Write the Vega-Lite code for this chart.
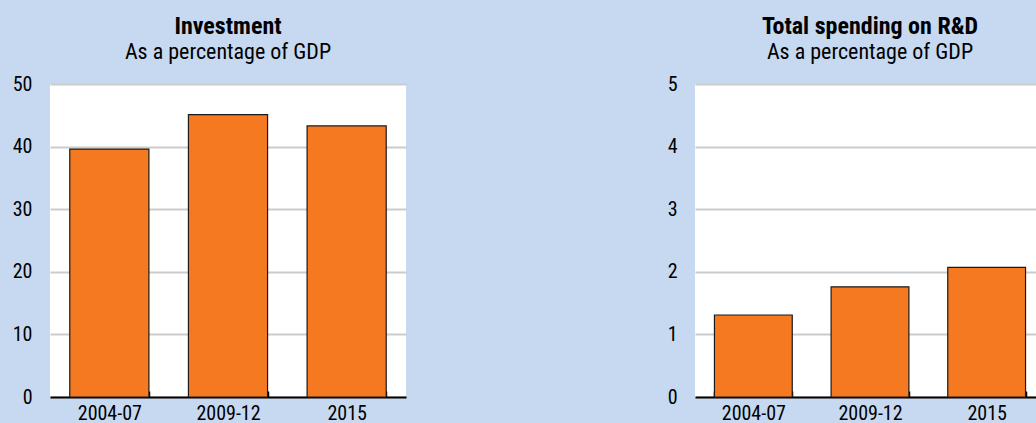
{
  "$schema": "https://vega.github.io/schema/vega-lite/v6.json",
  "background": "#C6D9F0",
  "padding": {"left": 12, "top": 15, "right": 0, "bottom": 0},
  "spacing": 261,
  "config": {
    "view": {"fill": "white", "stroke": null},
    "font": "Roboto Condensed",
    "axis": {"labelFont": "Roboto Condensed"},
    "title": {"font": "Roboto Condensed", "subtitleFont": "Roboto Condensed"}
  },
  "data": {
    "values": [
      {"panel": "Investment", "period": "2004-07", "value": 39.6},
      {"panel": "Investment", "period": "2009-12", "value": 45.1},
      {"panel": "Investment", "period": "2015", "value": 43.3},
      {"panel": "RD", "period": "2004-07", "value": 1.31},
      {"panel": "RD", "period": "2009-12", "value": 1.76},
      {"panel": "RD", "period": "2015", "value": 2.07}
    ]
  },
  "hconcat": [
    {
      "width": 356,
      "height": 313,
      "title": {"text": "Investment", "subtitle": "As a percentage of GDP", "fontSize": 24, "fontWeight": "bold", "subtitleFontSize": 22, "color": "black", "subtitleColor": "black", "anchor": "middle", "offset": 11, "subtitlePadding": 3},
      "transform": [{"filter": "datum.panel === 'Investment'"}],
      "mark": {"type": "bar", "color": "#F47920", "stroke": "#1a1a1a", "strokeWidth": 1.2},
      "encoding": {
        "x": {"field": "period", "type": "nominal", "sort": null,
          "scale": {"paddingInner": 0.333, "paddingOuter": 0.1667},
          "axis": {"title": null, "labelAngle": 0, "labelFontSize": 20, "labelColor": "black", "domainColor": "black", "domainWidth": 2, "tickColor": "black", "tickWidth": 1.5, "tickSize": -6, "tickBand": "extent", "labelPadding": 12, "grid": false}},
        "y": {"field": "value", "type": "quantitative",
          "scale": {"domain": [0, 50]},
          "axis": {"title": null, "values": [0, 10, 20, 30, 40, 50], "domain": false, "ticks": false, "labelFontSize": 20, "labelPadding": 18, "labelColor": "black", "gridColor": "#CCCCCC", "gridWidth": 2}}
      }
    },
    {
      "width": 350,
      "height": 313,
      "title": {"text": "Total spending on R&D", "subtitle": "As a percentage of GDP", "fontSize": 24, "fontWeight": "bold", "subtitleFontSize": 22, "color": "black", "subtitleColor": "black", "anchor": "middle", "offset": 11, "subtitlePadding": 3},
      "transform": [{"filter": "datum.panel === 'RD'"}],
      "mark": {"type": "bar", "color": "#F47920", "stroke": "#1a1a1a", "strokeWidth": 1.2},
      "encoding": {
        "x": {"field": "period", "type": "nominal", "sort": null,
          "scale": {"paddingInner": 0.333, "paddingOuter": 0.1667},
          "axis": {"title": null, "labelAngle": 0, "labelFontSize": 20, "labelColor": "black", "domainColor": "black", "domainWidth": 2, "tickColor": "black", "tickWidth": 1.5, "tickSize": -6, "tickBand": "extent", "labelPadding": 12, "grid": false}},
        "y": {"field": "value", "type": "quantitative",
          "scale": {"domain": [0, 5]},
          "axis": {"title": null, "values": [0, 1, 2, 3, 4, 5], "domain": false, "ticks": false, "labelFontSize": 20, "labelPadding": 18, "labelColor": "black", "gridColor": "#CCCCCC", "gridWidth": 2}}
      }
    }
  ]
}
